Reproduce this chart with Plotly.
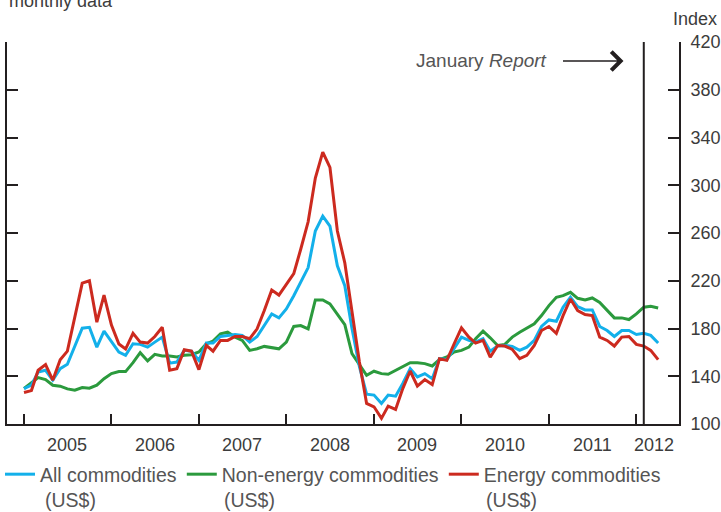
import pandas as pd
import plotly.graph_objects as go

# ---- data (monthly index, US$) ----
start_month = "2005-01-01"
energy = [126.4, 128.0, 145.0, 149.7, 136.7, 153.9, 161.0, 189.4, 218.0, 220.0,
          185.3, 208.0, 182.8, 167.0, 162.8, 175.9, 168.6, 167.8, 173.3, 181.0,
          145.0, 146.4, 162.2, 161.0, 145.6, 165.8, 161.0, 170.0, 170.0, 173.3,
          173.3, 171.4, 179.7, 195.0, 212.2, 208.0, 217.2, 226.0, 246.4, 269.4,
          306.0, 327.8, 315.0, 261.7, 235.0, 192.0, 152.0, 117.2, 114.4, 104.7,
          115.0, 112.2, 129.7, 144.4, 131.7, 137.2, 133.0, 154.7, 153.3, 167.0,
          180.6, 172.8, 167.8, 170.0, 156.0, 165.8, 165.3, 162.5, 154.7, 157.5,
          165.8, 178.3, 181.7, 176.0, 190.8, 204.7, 195.0, 191.7, 190.8, 172.8,
          170.0, 165.3, 172.8, 173.3, 166.7, 165.3, 161.7, 153.9]
all_comm = [129.7, 132.5, 143.6, 145.0, 136.7, 146.4, 150.0, 164.4, 180.3, 181.0,
            164.4, 177.8, 168.6, 160.3, 157.5, 167.2, 166.7, 164.4, 168.6, 172.8,
            151.0, 151.9, 161.7, 161.0, 153.3, 167.8, 167.8, 173.3, 174.2, 175.0,
            174.2, 168.6, 173.3, 182.5, 192.2, 188.9, 196.4, 207.5, 218.6, 231.0,
            261.7, 274.2, 265.8, 232.5, 215.8, 180.0, 148.0, 125.0, 124.2, 117.2,
            124.2, 123.3, 133.9, 146.4, 139.4, 142.2, 138.0, 154.7, 154.0, 163.0,
            172.8, 170.0, 168.6, 171.4, 161.0, 165.3, 165.8, 165.0, 161.7, 164.4,
            170.0, 181.7, 187.2, 186.1, 197.8, 206.1, 198.3, 195.6, 195.6, 181.7,
            178.3, 173.3, 178.3, 178.3, 175.0, 176.0, 174.2, 167.8]
non_energy = [129.7, 134.4, 138.9, 137.2, 132.5, 131.7, 129.4, 128.3, 130.6, 130.0,
              132.5, 138.0, 142.2, 143.9, 143.9, 151.4, 159.7, 152.8, 158.3, 156.9,
              156.9, 156.1, 157.5, 158.0, 160.3, 167.2, 169.4, 175.6, 176.9, 172.8,
              170.0, 161.7, 163.0, 165.0, 164.0, 163.0, 168.6, 181.7, 182.5, 179.7,
              203.9, 203.9, 200.6, 192.2, 183.3, 158.9, 149.2, 140.8, 144.2, 142.2,
              141.7, 145.0, 148.0, 151.4, 151.4, 150.6, 148.6, 153.9, 156.1, 160.3,
              161.7, 164.4, 171.4, 177.8, 172.2, 165.8, 166.7, 172.8, 176.9, 180.6,
              183.9, 190.8, 199.2, 206.1, 207.5, 210.3, 205.3, 203.9, 205.6, 201.9,
              195.0, 188.9, 188.9, 187.5, 192.2, 197.8, 198.6, 197.2]

year_labels = ["2005", "2006", "2007", "2008", "2009", "2010", "2011", "2012"]
year_label_pos = ["2005-07-01", "2006-07-01", "2007-07-01", "2008-07-01",
                  "2009-07-01", "2010-07-01", "2011-07-01", "2012-03-15"]
year_ticks = ["2005-01-01", "2006-01-01", "2007-01-01", "2008-01-01",
              "2009-01-01", "2010-01-01", "2011-01-01", "2012-01-01"]
y_ticks = [100, 140, 180, 220, 260, 300, 340, 380, 420]
report_date = "2012-02-01"

names = ["All commodities", "Non-energy commodities", "Energy commodities"]
unit_label = "(US$)"
colors = ["#13b0ea", "#2b9a3d", "#cc2a1f"]

dates = pd.date_range(start_month, periods=len(energy), freq="MS")

AX = "#231f20"
TXT = "#3c3c3c"
LEG = "#555555"
FONT = "Liberation Sans, Arial, Helvetica, sans-serif"
LEG_SIZE = 19.5

W, H = 721, 512
ML, MR, MT, MB = 7, 42, 42, 88
PW, PH = W - ML - MR, H - MT - MB


def px_to_paper_x(px):
    return (px - ML) / PW


def px_to_paper_y(py):
    return (H - MB - py) / PH


fig = go.Figure()
# draw order: green, blue, red on top; legend order via legendrank
fig.add_trace(go.Scatter(x=dates, y=non_energy, mode="lines", name=names[1],
                         legendrank=2, line=dict(color=colors[1], width=3)))
fig.add_trace(go.Scatter(x=dates, y=all_comm, mode="lines", name=names[0],
                         legendrank=1, line=dict(color=colors[0], width=3)))
fig.add_trace(go.Scatter(x=dates, y=energy, mode="lines", name=names[2],
                         legendrank=3, line=dict(color=colors[2], width=3)))

fig.add_shape(type="line", xref="x", yref="paper", x0=report_date, x1=report_date,
              y0=0, y1=1, line=dict(color=AX, width=2))

annotations = []
for lab, pos in zip(year_labels, year_label_pos):
    annotations.append(dict(x=pos, y=px_to_paper_y(444.5), xref="x", yref="paper",
                            text=lab, showarrow=False, xanchor="center",
                            yanchor="middle",
                            font=dict(size=18, color=TXT, family=FONT)))
annotations.append(dict(x=px_to_paper_x(719), y=px_to_paper_y(19), xref="paper",
                        yref="paper", text="Index", showarrow=False,
                        xanchor="right", yanchor="middle",
                        font=dict(size=18, color=TXT, family=FONT)))
annotations.append(dict(x=0.0, y=px_to_paper_y(1), xref="paper", yref="paper",
                        text="monthly data", showarrow=False, xanchor="left",
                        yanchor="middle",
                        font=dict(size=18, color=TXT, family=FONT)))
annotations.append(dict(x=px_to_paper_x(549), y=px_to_paper_y(61), xref="paper",
                        yref="paper", text="January <i>Report</i>",
                        showarrow=False, xanchor="right", yanchor="middle",
                        font=dict(size=19, color=LEG, family=FONT)))
annotations.append(dict(x=px_to_paper_x(623.5), y=px_to_paper_y(61), xref="paper",
                        yref="paper", text="", showarrow=True, ax=-62, ay=0,
                        axref="pixel", ayref="pixel",
                        arrowhead=4, arrowsize=2.4, arrowwidth=1.5, arrowcolor=AX,
                        standoff=0, startstandoff=0))
# second line of each legend entry, aligned with the legend texts
for xp in [43, 222, 484]:
    annotations.append(dict(x=px_to_paper_x(xp), y=px_to_paper_y(500), xref="paper",
                            yref="paper", text=unit_label, showarrow=False,
                            xanchor="left", yanchor="middle",
                            font=dict(size=LEG_SIZE, color=LEG, family=FONT)))

fig.update_layout(
    width=W, height=H, autosize=False,
    margin=dict(l=ML, r=MR, t=MT, b=MB, pad=0),
    paper_bgcolor="white", plot_bgcolor="white",
    font=dict(family=FONT, size=18, color=TXT),
    showlegend=True,
    legend=dict(orientation="h", xref="container", yref="container",
                x=0.0, xanchor="left", y=(H - 455) / H, yanchor="top",
                itemwidth=30, font=dict(size=LEG_SIZE, color=LEG, family=FONT),
                bgcolor="rgba(0,0,0,0)", traceorder="normal"),
    annotations=annotations,
    xaxis=dict(type="date", range=["2004-10-22", "2012-06-27"],
               showgrid=False, zeroline=False,
               showline=True, linecolor=AX, linewidth=2,
               ticks="inside", ticklen=10, tickwidth=2, tickcolor=AX,
               tickmode="array", tickvals=year_ticks, ticktext=[""] * len(year_ticks),
               showticklabels=False, automargin=False),
    yaxis=dict(range=[100, 420], side="right", showgrid=False, zeroline=False,
               showline=True, linecolor=AX, linewidth=2, mirror="ticks",
               ticks="inside", ticklen=11, tickwidth=2, tickcolor=AX,
               tickmode="array", tickvals=y_ticks,
               tickfont=dict(size=18, color=TXT), ticklabelstandoff=6,
               automargin=False),
)

fig.write_html("out.html",
               config={"displayModeBar": False, "responsive": False},
               post_script="document.body.style.margin='0';"
                           "document.body.style.overflow='hidden';")
